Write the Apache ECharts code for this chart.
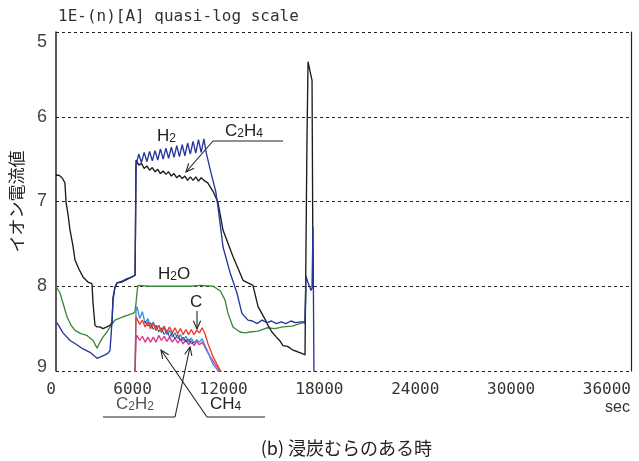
<!DOCTYPE html>
<html><head><meta charset="utf-8">
<script src="https://cdn.jsdelivr.net/npm/echarts/dist/echarts.min.js"></script>
<style>html,body{margin:0;padding:0;background:#fff}#c{width:639px;height:461px}</style>
</head><body><div id="c"></div>
<script>
// ---- data (time in sec, value = n in 1E-(n) A) ----
const xTicks = [0, 6000, 12000, 18000, 24000, 30000, 36000];
const yTicks = [5, 6, 7, 8, 9];

const h2T = [60,440,880,1310,1690,2130,2440,2570,2820,3070,3260,3380,3440,3510,3570,3690,3820,4130,4450,4760,4880,4950,4980,5010,5180,5350,5520,5690,5860,6030,6200,6370,6540,6710,6880,7050,7220,7390,7560,7730,7900,8070,8240,8410,8580,8750,8920,9090,9260,9400,9700,10000,10140,10460,10900,11330,11640,12020,12300,12600,12900,13200,13500,13800,14100,14400,14700,15000,15300,15590,15650,15780,15970,16030,16090,16150];
const h2V = [8.43,8.55,8.64,8.69,8.74,8.78,8.83,8.85,8.83,8.81,8.79,8.76,8.60,8.40,8.16,8.02,7.96,7.94,7.91,7.89,7.88,7.87,7.30,6.57,6.44,6.54,6.42,6.53,6.41,6.52,6.40,6.51,6.38,6.50,6.37,6.49,6.36,6.48,6.34,6.47,6.33,6.46,6.31,6.44,6.29,6.43,6.27,6.42,6.26,6.42,6.66,6.88,7.06,7.54,7.84,8.08,8.32,8.40,8.41,8.44,8.40,8.43,8.41,8.44,8.42,8.44,8.41,8.43,8.42,8.42,7.88,7.96,8.05,8.02,7.30,9.02];

const c2h4T = [0,190,380,560,630,750,880,1060,1190,1440,1690,2000,2250,2320,2440,2570,2750,2940,3190,3380,3510,3570,3690,3820,4130,4450,4760,4950,4980,5010,5180,5350,5520,5690,5860,6030,6200,6370,6540,6710,6880,7050,7220,7390,7560,7730,7900,8070,8240,8410,8580,8750,8920,9090,9260,9500,9830,10140,10460,11080,11710,12330,12650,13090,13300,13520,13800,14000,14210,14500,14800,15090,15350,15590,15650,15710,15780,15840,15970,16030,16090];
const c2h4V = [6.69,6.69,6.72,6.78,7.01,7.15,7.34,7.52,7.69,7.80,7.89,7.95,7.97,8.20,8.46,8.48,8.48,8.50,8.48,8.46,8.43,8.13,8.01,7.96,7.95,7.92,7.89,7.87,7.20,6.51,6.57,6.55,6.61,6.58,6.63,6.60,6.65,6.62,6.67,6.64,6.68,6.65,6.70,6.67,6.72,6.69,6.73,6.70,6.75,6.71,6.75,6.71,6.76,6.72,6.75,6.78,6.88,7.01,7.34,7.65,7.93,7.99,8.24,8.39,8.47,8.54,8.60,8.64,8.70,8.71,8.75,8.77,8.79,8.81,8.81,6.33,5.35,5.33,5.52,5.57,7.90];

const h2oT = [0,250,440,690,940,1190,1560,1940,2320,2570,2750,2940,3190,3380,3690,4190,4510,4820,4950,5010,5070,5130,5890,7140,8390,9020,9830,10080,10270,10580,10770,11080,11520,11830,12150,12650,13210,13710,14210,14780,15460,15590,15650];
const h2oV = [8.00,8.08,8.20,8.36,8.46,8.52,8.56,8.58,8.64,8.73,8.66,8.60,8.54,8.48,8.40,8.36,8.34,8.32,8.30,8.20,8.08,7.99,8.00,8.00,8.00,7.99,8.00,8.03,8.05,8.16,8.32,8.48,8.54,8.55,8.54,8.53,8.49,8.50,8.48,8.47,8.43,8.44,8.00];

const cT = [4950,5010,5070,5240,5410,5580,5750,5920,6090,6260,6430,6600,6770,6940,7110,7280,7450,7620,7790,7960,8130,8300,8470,8640,8810,8980,9150,9330,9520,9830,10080,10270,10400];
const cV = [9.02,8.36,8.36,8.45,8.40,8.48,8.42,8.50,8.44,8.52,8.46,8.53,8.47,8.54,8.48,8.55,8.49,8.56,8.50,8.57,8.51,8.57,8.51,8.57,8.52,8.55,8.49,8.56,8.68,8.83,8.92,8.99,9.03];

const ch4T = [4950,5010,5070,5240,5410,5580,5750,5920,6090,6260,6430,6600,6770,6940,7110,7280,7450,7620,7790,7960,8130,8300,8470,8640,8810,8980,9150,9330,9520,9830,10080,10200];
const ch4V = [9.02,8.28,8.24,8.38,8.30,8.44,8.38,8.48,8.42,8.52,8.46,8.55,8.49,8.57,8.52,8.60,8.55,8.62,8.57,8.64,8.59,8.66,8.61,8.67,8.63,8.66,8.62,8.70,8.78,8.92,8.98,9.02];

const c2h2T = [4950,5010,5070,5240,5410,5580,5750,5920,6090,6260,6430,6600,6770,6940,7110,7280,7450,7620,7790,7960,8130,8300,8470,8640,8810,8980,9150,9330,9520,9830,10080,10330];
const c2h2V = [9.02,8.61,8.58,8.64,8.59,8.66,8.60,8.66,8.60,8.66,8.58,8.64,8.59,8.65,8.60,8.66,8.61,8.67,8.62,8.68,8.63,8.69,8.64,8.70,8.65,8.69,8.66,8.72,8.79,8.88,8.95,9.02];

const navyT = [5580,5750,5920,6090,6260,6430,6600,6770,6940,7110,7280,7450,7620,7790,7960,8130,8300,8470,8640];
const navyV = [8.41,8.47,8.43,8.51,8.46,8.54,8.49,8.57,8.52,8.60,8.55,8.62,8.57,8.64,8.60,8.66,8.62,8.68,8.66];

// ---- build ----
const zip = (t, v) => t.map((x, i) => [x, v[i]]);
const line = (name, t, v, color, w) => ({
  name, type: 'line', data: zip(t, v), showSymbol: false, symbol: 'none',
  lineStyle: { color, width: w || 1.35 }, itemStyle: { color }, z: 3, animation: false
});

const ink = '#222';
function arrow(x1, y1, x2, y2) {
  const dx = x2 - x1, dy = y2 - y1, L = Math.hypot(dx, dy);
  const bx = -dx / L, by = -dy / L, a = 0.42, c = Math.cos(a), s = Math.sin(a), len = 9;
  const w1 = [x2 + len * (bx * c - by * s), y2 + len * (bx * s + by * c)];
  const w2 = [x2 + len * (bx * c + by * s), y2 + len * (-bx * s + by * c)];
  return [
    { type: 'line', shape: { x1, y1, x2, y2 }, style: { stroke: ink, lineWidth: 1.1 } },
    { type: 'polyline', shape: { points: [w1, [x2, y2], w2] }, style: { stroke: ink, lineWidth: 1.1, fill: null } }
  ];
}
function seg(x1, y1, x2, y2) {
  return { type: 'line', shape: { x1, y1, x2, y2 }, style: { stroke: ink, lineWidth: 1.1 } };
}
const sans = 'Liberation Sans, Arial, sans-serif';
function chem(x, y, parts, color) {
  const txt = parts.map(p => (p[1] ? '{s|' : '{m|') + p[0] + '}').join('');
  return {
    type: 'text', x, y, z: 10,
    style: {
      text: txt, verticalAlign: 'middle', align: 'left',
      rich: {
        m: { fontSize: 17, fontFamily: sans, fill: color || ink, lineHeight: 18 },
        s: { fontSize: 12, fontFamily: sans, fill: color || ink, lineHeight: 12, verticalAlign: 'bottom' }
      }
    }
  };
}

const chart = echarts.init(document.getElementById('c'), null, { renderer: 'canvas' });
const yLab = { fontSize: 18, fontFamily: sans, color: '#444' };
chart.setOption({
  backgroundColor: '#fff',
  animation: false,
  grid: { left: 56, right: 8, top: 32, bottom: 90, containLabel: false },
  xAxis: {
    type: 'value', min: xTicks[0], max: xTicks[xTicks.length - 1], interval: 6000,
    axisLine: { show: false }, axisTick: { show: false }, splitLine: { show: false },
    axisLabel: {
      align: 'right', margin: 11, fontSize: 16, color: '#333',
      fontFamily: 'DejaVu Sans Mono, Liberation Mono, monospace',
      formatter: v => String(v)
    }
  },
  yAxis: [{
    type: 'value', inverse: true, min: yTicks[0], max: yTicks[yTicks.length - 1], interval: 1,
    name: 'イオン電流値', nameLocation: 'middle', nameRotate: 90, nameGap: 31,
    nameTextStyle: { fontSize: 17, fontFamily: 'Noto Sans CJK JP', color: '#222' },
    axisLine: { show: true, lineStyle: { color: '#222', width: 1.5 } },
    axisTick: { show: false },
    splitLine: { show: true, lineStyle: { color: '#222', width: 1, type: [3, 3] } },
    axisLabel: {
      margin: 9, ...yLab,
      formatter: v => v === yTicks[0] ? '{t|' + v + '}' : v === yTicks[yTicks.length - 1] ? '{b|' + v + '}' : '{n|' + v + '}',
      rich: {
        t: { ...yLab, padding: [20, 0, 0, 0] },
        b: { ...yLab, padding: [0, 0, 8, 0] },
        n: { ...yLab }
      }
    }
  }, {
    type: 'value', position: 'right', inverse: true, min: 5, max: 9, interval: 1,
    axisLine: { show: true, lineStyle: { color: '#222', width: 1.2 } },
    axisTick: { show: false }, axisLabel: { show: false }, splitLine: { show: false }
  }],
  series: [
    line('H2O', h2oT, h2oV, '#3b8a3b'),
    line('C2H4', c2h4T, c2h4V, '#1c1c1c'),
    line('H2', h2T, h2V, '#27359c'),
    line('C2H2', c2h2T, c2h2V, '#e0338c'),
    line('CH4', ch4T, ch4V, '#3d8fe0'),
    line('dark', navyT, navyV, '#3b3868', 1),
    line('C', cT, cV, '#ee3b28')
  ],
  graphic: [
    { type: 'text', x: 58, y: 17, style: { text: '1E-(n)[A] quasi-log scale', fontSize: 16, fontFamily: 'DejaVu Sans Mono, monospace', fill: '#333', verticalAlign: 'middle' } },
    chem(157, 136, [['H', 0], ['2', 1]]),
    chem(225, 131, [['C', 0], ['2', 1], ['H', 0], ['4', 1]]),
    seg(213, 141, 283, 141),
    ...arrow(213, 141, 186, 172),
    chem(158, 274, [['H', 0], ['2', 1], ['O', 0]]),
    chem(190, 302, [['C', 0]]),
    ...arrow(197, 311, 197, 329),
    chem(116, 404, [['C', 0], ['2', 1], ['H', 0], ['2', 1]], '#555'),
    seg(103, 417, 175, 417),
    ...arrow(175, 417, 190, 347),
    chem(210, 404, [['C', 0], ['H', 0], ['4', 1]]),
    seg(207, 417, 265, 417),
    ...arrow(207, 417, 161, 350),
    { type: 'text', x: 630, y: 408, style: { text: 'sec', fontSize: 16, fontFamily: sans, fill: '#333', align: 'right', verticalAlign: 'middle' } },
    { type: 'text', x: 432, y: 448, style: { text: '(b) 浸炭むらのある時', fontSize: 18, fontFamily: 'Noto Sans CJK JP', fill: '#222', align: 'right', verticalAlign: 'middle' } }
  ]
});
</script>
</body></html>
